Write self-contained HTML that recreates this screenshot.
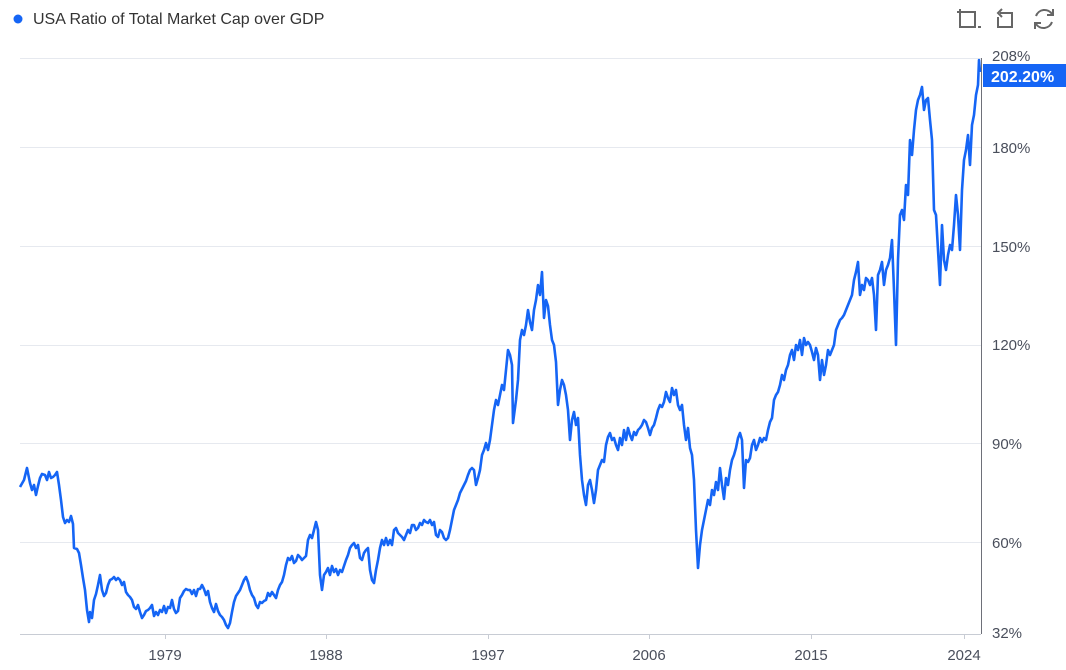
<!DOCTYPE html>
<html><head><meta charset="utf-8"><style>
html,body{margin:0;padding:0;background:#fff;width:1066px;height:670px;overflow:hidden;font-family:"Liberation Sans",sans-serif}
</style></head><body>
<svg width="1066" height="670" viewBox="0 0 1066 670" xmlns="http://www.w3.org/2000/svg" font-family="Liberation Sans, sans-serif">
<circle cx="18" cy="19" r="4.5" fill="#1565f5"/>
<text x="33" y="24" font-size="16" fill="#333">USA Ratio of Total Market Cap over GDP</text>
<g fill="none" stroke="#666" stroke-width="2">
<path d="M960 9v18h15v-15h-18M960 9v3M978 27h3"/>
<path d="M1000 13h12v14h-14v-10M1002 9l-4 4 4 4"/>
<path d="M1052 14a9 9 0 0 0-16 2M1036 24a9 9 0 0 0 16-2M1053 9v6h-6M1035 29v-6h6"/>
</g>
<g stroke="#e6e9ef" stroke-width="1">
<line x1="20" y1="58.5" x2="981" y2="58.5"/>
<line x1="20" y1="147.5" x2="981" y2="147.5"/>
<line x1="20" y1="246.5" x2="981" y2="246.5"/>
<line x1="20" y1="345.5" x2="981" y2="345.5"/>
<line x1="20" y1="443.5" x2="981" y2="443.5"/>
<line x1="20" y1="542.5" x2="981" y2="542.5"/>
</g>
<line x1="20" y1="634.5" x2="981" y2="634.5" stroke="#c8ccd4"/>
<line x1="981.5" y1="58" x2="981.5" y2="634" stroke="#6e7079"/>
<g stroke="#c8ccd4"><line x1="165.5" y1="634" x2="165.5" y2="639"/><line x1="326.5" y1="634" x2="326.5" y2="639"/><line x1="488.5" y1="634" x2="488.5" y2="639"/><line x1="649.5" y1="634" x2="649.5" y2="639"/><line x1="811.5" y1="634" x2="811.5" y2="639"/><line x1="964.5" y1="634" x2="964.5" y2="639"/></g>
<g font-size="15" fill="#4a4f5c" text-anchor="middle">
<text x="165" y="660">1979</text><text x="326" y="660">1988</text><text x="488" y="660">1997</text><text x="649" y="660">2006</text><text x="811" y="660">2015</text><text x="964" y="660">2024</text>
</g>
<g font-size="15" fill="#4a4f5c">
<text x="992" y="61">208%</text><text x="992" y="153">180%</text><text x="992" y="252">150%</text><text x="992" y="350">120%</text><text x="992" y="449">90%</text><text x="992" y="548">60%</text><text x="992" y="638">32%</text>
</g>
<polyline fill="none" stroke="#1565f5" stroke-width="2.6" stroke-linejoin="round" points="20,487 24,480 27,468 30,483 32,490 34,485 36,495 38,486 40,478 42,474 45,475 47,480 49,472 51,478 53,477 55,475 57,472 59,485 61,500 63,517 65,523 67,520 69,522 71,516 73,524 74,548 77,549 79,553 81,565 83,578 85,590 87,610 89,622 90,612 92,618 94,600 96,594 98,585 100,575 102,590 104,596 106,593 108,585 110,580 112,579 114,577 116,580 118,578 120,580 122,585 124,582 126,592 128,595 130,597 132,600 134,607 136,609 138,605 140,612 142,618 144,615 146,611 148,610 150,608 152,605 154,616 156,612 158,615 160,610 162,612 164,606 166,613 168,607 170,608 172,600 174,609 176,613 178,611 180,598 182,595 184,591 186,589 188,590 190,590 192,594 194,590 196,596 198,589 200,589 202,585 204,589 206,595 208,591 210,602 212,608 214,612 216,604 218,611 220,615 222,617 224,620 226,625 228,628 230,623 232,612 234,602 236,596 238,593 240,590 242,585 244,580 246,577 248,582 250,590 252,595 254,598 256,605 258,608 260,602 262,603 264,601 266,600 268,593 270,596 272,592 274,595 276,598 278,590 280,585 282,582 284,575 286,565 288,558 290,560 292,556 294,563 296,561 298,555 300,557 302,560 304,558 306,556 308,540 310,535 312,538 314,530 316,522 318,530 320,575 322,590 324,575 326,572 328,568 330,575 332,566 334,572 336,569 338,575 340,570 342,572 344,566 346,560 348,555 350,548 352,545 354,543 356,548 358,545 360,558 362,560 364,553 366,550 368,548 370,570 372,580 374,583 376,570 378,560 380,548 382,540 384,545 386,538 388,545 390,540 392,545 394,530 396,528 398,533 400,535 402,537 404,540 406,535 408,530 410,533 412,525 414,525 416,530 418,528 420,523 422,525 424,520 426,522 428,523 430,520 432,525 434,522 436,535 438,537 440,530 442,532 444,538 446,540 448,538 450,530 452,520 454,510 456,505 458,500 460,493 462,489 464,485 466,481 468,475 470,470 472,468 474,470 476,485 478,478 480,470 482,455 484,450 486,443 488,450 490,440 492,425 494,410 496,400 498,405 500,395 502,385 504,390 506,370 508,350 510,355 512,365 513,423 516,400 518,380 520,340 522,330 524,335 526,325 528,310 530,322 532,330 534,310 536,300 538,285 540,295 542,272 544,318 546,300 548,306 550,325 552,340 554,345 556,362 558,405 560,390 562,380 564,385 566,395 568,410 570,440 572,420 574,412 576,425 578,418 580,455 582,480 584,495 586,505 588,485 590,480 592,490 594,503 596,490 598,470 600,465 602,460 604,462 606,445 608,437 610,433 612,440 614,438 616,445 618,450 620,438 622,445 624,430 626,440 628,428 630,435 632,440 634,432 636,435 638,430 640,428 642,425 644,420 646,422 648,428 650,435 652,428 654,425 656,418 658,410 660,405 662,407 664,402 666,392 668,398 670,402 672,388 674,395 676,390 678,405 680,410 682,405 684,425 686,440 688,428 690,448 692,455 694,480 696,530 698,568 700,545 702,530 704,520 706,510 708,500 710,505 712,490 714,495 716,482 718,490 720,468 722,485 724,499 726,478 728,485 730,470 732,460 734,455 736,448 738,438 740,433 742,440 744,488 746,460 748,462 750,458 752,445 754,440 756,450 758,445 760,438 762,442 764,438 766,440 768,430 770,422 772,418 774,400 776,395 778,392 780,385 782,375 784,380 786,370 788,365 790,355 792,350 794,360 796,345 798,350 800,340 802,355 804,338 806,345 808,342 810,345 812,352 814,360 816,348 818,355 820,380 822,360 824,375 826,365 828,350 830,355 832,350 834,345 836,330 838,325 840,320 842,318 844,315 846,310 848,305 850,300 852,295 854,280 856,272 858,262 860,295 862,285 864,290 866,278 868,280 870,285 872,278 874,295 876,330 878,275 880,270 882,262 884,285 886,270 888,265 890,258 892,240 894,290 896,345 898,260 900,215 902,210 904,220 906,185 908,195 910,140 912,155 914,130 916,110 918,100 920,95 922,87 924,110 926,100 928,98 930,120 932,140 934,210 936,215 938,250 940,285 942,225 944,260 946,270 948,255 950,245 952,250 954,225 956,195 958,215 960,250 962,190 964,160 966,150 968,135 970,165 972,125 974,115 976,95 978,85 979,60 980,72"/>
<rect x="983" y="64" width="83" height="23" fill="#1565f5"/>
<text x="991" y="82" font-size="16" font-weight="bold" fill="#fff">202.20%</text>
</svg>
</body></html>
